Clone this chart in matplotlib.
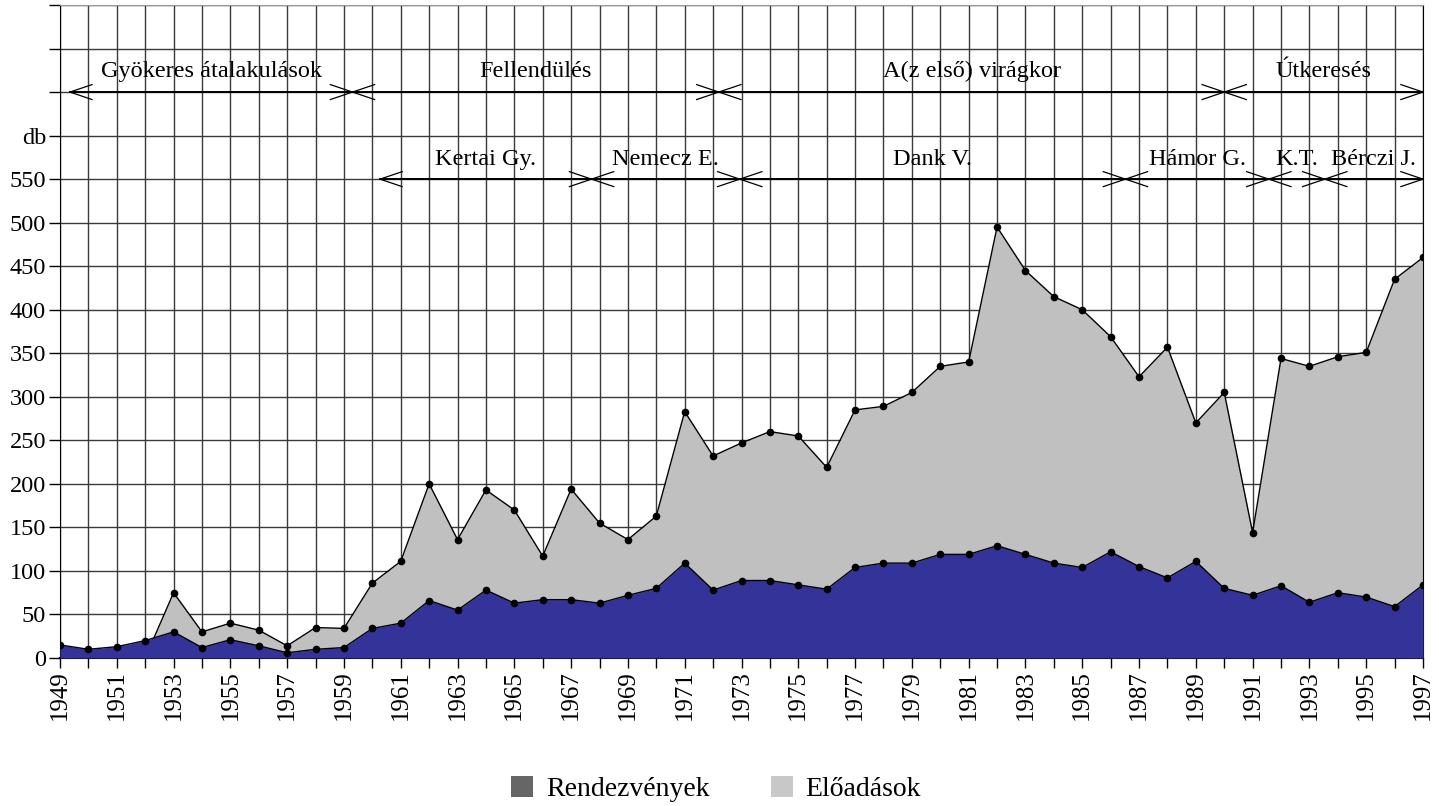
import matplotlib.pyplot as plt
from matplotlib.patches import Patch

plt.rcParams['font.family'] = ['Liberation Serif', 'DejaVu Serif']

years = list(range(1949, 1998))

# Előadások (grey area, drawn behind)
eloadasok = [0, 0, 0, 0, 75, 30, 40, 32, 14, 35, 34, 86, 111, 200, 136, 193, 170, 117,
             194, 155, 136, 163, 283, 232, 247, 260, 255, 219, 285, 289, 305, 335, 340,
             495, 445, 415, 400, 369, 323, 357, 270, 305, 144, 344, 335, 346, 351, 435, 460]

# Rendezvények (blue area, in front)
rendezvenyek = [15, 10, 13, 20, 30, 12, 21, 14, 6, 10, 12, 34, 40, 66, 55, 78, 63, 67,
                67, 63, 72, 80, 109, 78, 89, 89, 84, 79, 104, 109, 109, 119, 119,
                129, 119, 109, 104, 122, 105, 92, 111, 80, 72, 83, 64, 75, 70, 59, 84]

# periods (top row) and leaders (second row)
phase_names = ['Gyökeres átalakulások', 'Fellendülés', 'A(z első) virágkor', 'Útkeresés']
phase_bounds = [1949.35, 1959.3, 1972.2, 1990.0, 1997.0]
leader_names = ['Kertai Gy.', 'Nemecz E.', 'Dank V.', 'Hámor G.', 'K.T.', 'Bérczi J.']
leader_bounds = [1960.27, 1967.72, 1972.94, 1986.52, 1991.57, 1993.54, 1997.0]

blue = '#333399'
grey = '#C0C0C0'

fig = plt.figure(figsize=(14.39, 8.06), dpi=100)
ax = fig.add_axes([60 / 1439, 1 - 658 / 806, (1423 - 60) / 1439, (658 - 5) / 806])

ax.fill_between(years, 0, eloadasok, color=grey, zorder=2, lw=0)
ax.plot(years, eloadasok, color='black', lw=1, zorder=3)
ax.plot([y for y, v in zip(years, eloadasok) if v > 0], [v for v in eloadasok if v > 0],
        'o', color='black', ms=4.5, zorder=6)
ax.fill_between(years, 0, rendezvenyek, color=blue, zorder=4, lw=0)
ax.plot(years, rendezvenyek, color='black', lw=1, marker='o', ms=4.5, zorder=5)

ax.set_xlim(1949, 1997)
ax.set_ylim(0, 750)
ax.set_xticks(years)
ax.set_xticklabels([str(y) if (y - 1949) % 2 == 0 else '' for y in years], rotation=90, fontsize=18)
yt = list(range(0, 751, 50))
ax.set_yticks(yt)
ax.set_yticklabels([str(v) if v <= 550 else ('db' if v == 600 else '') for v in yt], fontsize=17.5)
ax.tick_params(axis='x', direction='out', length=7, width=1, pad=2)
ax.tick_params(axis='y', direction='out', length=8, width=1, pad=2)
ax.grid(True, color='#3a3a3a', lw=1, zorder=1)
ax.set_axisbelow(True)
for s in ['left', 'bottom', 'right']:
    ax.spines[s].set_color('black')
ax.spines['bottom'].set_linewidth(1.5)
ax.spines['top'].set_color('#999999')


def arrow_row(bounds, names, yline, ytext):
    dx, dy = 0.78, 8.6
    ax.plot([bounds[0], bounds[-1]], [yline, yline], color='black', lw=1.4, zorder=7, clip_on=False)
    for a, b, name in zip(bounds[:-1], bounds[1:], names):
        ax.plot([a + dx, a, a + dx], [yline + dy, yline, yline - dy], color='black', lw=0.9,
                zorder=7, clip_on=False)
        ax.plot([b - dx, b, b - dx], [yline + dy, yline, yline - dy], color='black', lw=0.9,
                zorder=7, clip_on=False)
        ax.text((a + b) / 2, ytext, name, ha='center', va='center', fontsize=17.5, zorder=8)


arrow_row(phase_bounds, phase_names, 650, 674)
arrow_row(leader_bounds, leader_names, 550, 573)

handles = [Patch(facecolor='#666666'), Patch(facecolor='#C8C8C8')]
fig.legend(handles, ['Rendezvények', 'Előadások'], loc='center', bbox_to_anchor=(0.4976, 0.021),
           ncol=2, frameon=False, fontsize=20, handlelength=0.8, handleheight=0.8,
           handletextpad=0.45, columnspacing=2.2)

fig.savefig('out.png', dpi=100)
